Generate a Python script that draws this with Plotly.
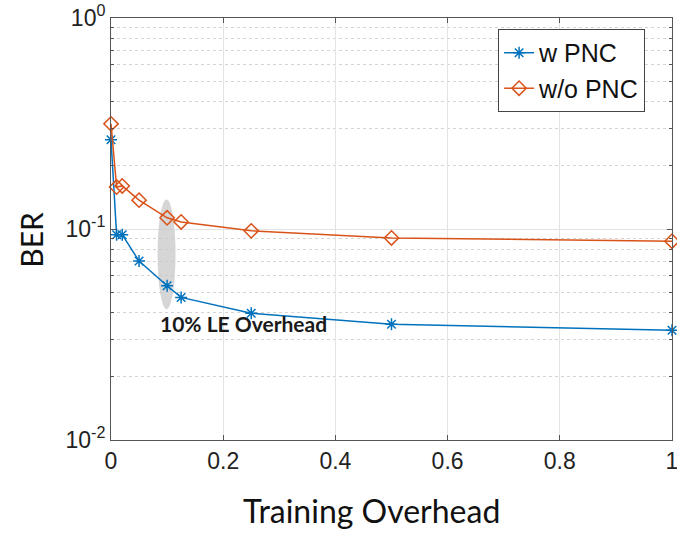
import plotly.graph_objects as go

overhead = [0, 0.01, 0.02, 0.05, 0.1, 0.125, 0.25, 0.5, 1.0]
ber_w_pnc = [0.265, 0.094, 0.094, 0.0705, 0.0538, 0.0474, 0.0399, 0.0354, 0.0331]
ber_wo_pnc = [0.315, 0.158, 0.160, 0.137, 0.113, 0.108, 0.098, 0.0907, 0.0875]

x_ticks = [0, 0.2, 0.4, 0.6, 0.8, 1]
x_tick_text = ["0", "0.2", "0.4", "0.6", "0.8", "1"]
y_ticks = [0.01, 0.1, 1]
y_tick_text = ["10<sup>-2</sup>", "10<sup>-1</sup>", "10<sup>0</sup>"]
y_minor_ticks = [m * d for d in (0.01, 0.1) for m in range(2, 10)]

highlight_x = 0.1
highlight_ber_low = 0.0417
highlight_ber_high = 0.138
highlight_label = "10% LE Overhead"

x_title = "Training Overhead"
y_title = "BER"

BLUE = "#0072BD"
ORANGE = "#D95319"

fig = go.Figure()

fig.add_trace(go.Scatter(
    x=overhead, y=ber_w_pnc, mode="lines+markers", name="w PNC",
    line=dict(color=BLUE, width=1.5), cliponaxis=False,
    marker=dict(symbol="asterisk-open", size=10, color=BLUE, line=dict(color=BLUE, width=1.5)),
))
fig.add_trace(go.Scatter(
    x=overhead, y=ber_wo_pnc, mode="lines+markers", name="w/o PNC",
    line=dict(color=ORANGE, width=1.5), cliponaxis=False,
    marker=dict(symbol="diamond-open", size=11, color=ORANGE, line=dict(color=ORANGE, width=1.5)),
))

fig.add_shape(type="circle", xref="x", yref="y",
              x0=highlight_x - 0.017, x1=highlight_x + 0.015,
              y0=highlight_ber_low, y1=highlight_ber_high,
              fillcolor="rgba(200,200,200,0.75)", line=dict(width=0), layer="between")

fig.add_annotation(x=highlight_x - 0.017, y=-1.45, xref="x", yref="y",
                   text="<b>" + highlight_label + "</b>", showarrow=False,
                   xanchor="left", yanchor="middle",
                   font=dict(family="Lato", size=21, color="#1a1a1a"))

# axis titles placed as in the reference
fig.add_annotation(x=0.465, y=-0.168, xref="paper", yref="paper",
                   text=x_title, showarrow=False, xanchor="center", yanchor="middle",
                   font=dict(family="Lato", size=32, color="#111"))
fig.add_annotation(x=-0.144, y=0.475, xref="paper", yref="paper",
                   text=y_title, showarrow=False, xanchor="center", yanchor="middle",
                   textangle=-90, font=dict(family="Lato", size=30, color="#111"))

axis_common = dict(
    showline=True, linecolor="#555", linewidth=1, mirror="ticks",
    ticks="inside", tickcolor="#555", ticklen=5,
    gridcolor="#e3e3e3", gridwidth=1, zeroline=False, automargin=False,
    ticklabeloverflow="allow",
    tickfont=dict(family="Liberation Sans", size=23, color="#222"),
)

fig.update_xaxes(range=[0, 1], tickvals=x_ticks, ticktext=x_tick_text, **axis_common)
fig.update_yaxes(
    type="log", range=[-2, 0], tickvals=y_ticks, ticktext=y_tick_text,
    minor=dict(tickvals=y_minor_ticks, ticks="inside", ticklen=3, tickcolor="#555", showgrid=True,
               gridcolor="#d4d4d4", griddash="dot", gridwidth=1),
    **axis_common,
)

fig.update_layout(
    width=677, height=536,
    margin=dict(l=111, r=5, t=18, b=96),
    plot_bgcolor="white", paper_bgcolor="white",
    legend=dict(x=0.69, y=0.974, xanchor="left", yanchor="top",
                bordercolor="#444", borderwidth=1, bgcolor="white",
                font=dict(family="Liberation Sans", size=25, color="#111"),
                tracegroupgap=0),
    showlegend=True,
)

fig.write_html("out.html", config={"displayModeBar": False},
               post_script="document.body.style.margin='0';document.body.style.overflow='hidden';")
